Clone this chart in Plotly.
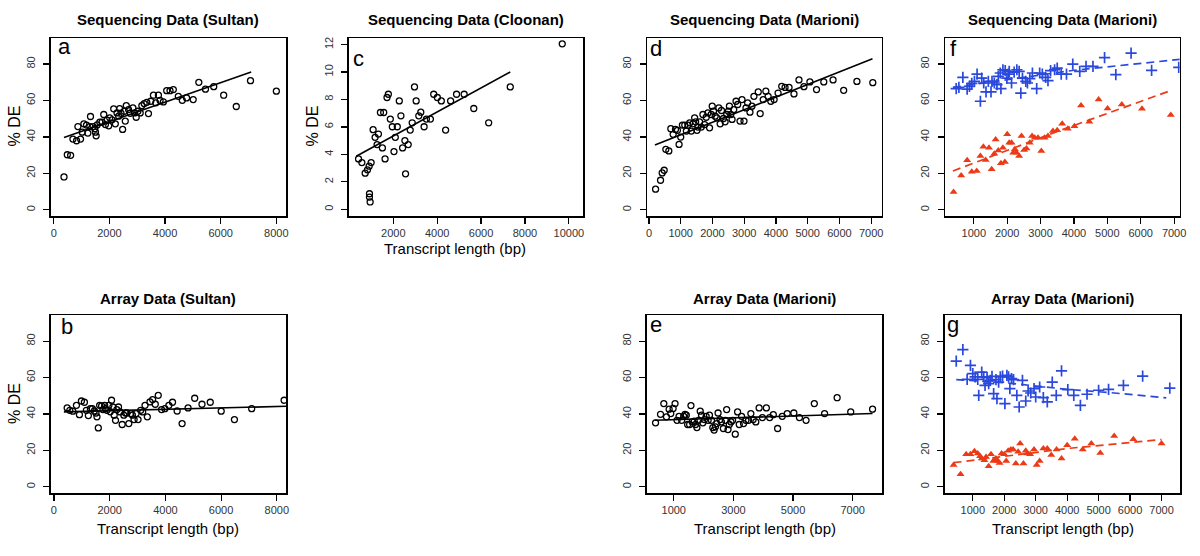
import plotly.graph_objects as go

# ---------------- data ----------------
# Panel a: Sequencing Data (Sultan)
a_x = [369, 488, 607, 690, 821, 869, 964, 1024, 1083, 1179,
       1226, 1321, 1298, 1417, 1476, 1500, 1524, 1560, 1655, 1738,
       1798, 1857, 1917, 1976, 2012, 2095, 2155, 2214, 2274, 2333,
       2369, 2417, 2476, 2536, 2571, 2607, 2690, 2750, 2845, 2905,
       2964, 3024, 3107, 3167, 3250, 3345, 3405, 3488, 3583, 3667,
       3762, 3821, 3940, 4060, 4179, 4298, 4476, 4619, 4774, 5012,
       5214, 5452, 5750, 6107, 6560, 7071, 8000]
a_y = [18.0, 30.2, 29.9, 38.8, 37.9, 45.7, 38.8, 42.6, 47.2, 46.5,
       42.1, 51.2, 45.7, 45.7, 44.5, 42.6, 40.6, 46.6, 48.1, 48.1,
       52.3, 46.8, 49.2, 46.1, 50.5, 49.4, 55.4, 47.2, 53.2, 51.4,
       55.5, 53.0, 44.1, 54.1, 48.7, 57.2, 55.0, 53.0, 55.9, 53.2,
       50.8, 54.1, 53.2, 57.2, 58.3, 59.0, 52.8, 59.6, 62.9, 58.7,
       62.9, 60.0, 59.2, 65.4, 65.4, 66.0, 62.3, 60.1, 61.4, 60.5,
       70.0, 66.2, 67.6, 62.9, 56.7, 70.9, 65.1]
a_fit_x = [369, 7095]
a_fit_y = [39.7, 75.6]

# Panel c: Sequencing Data (Cloonan)
c_x = [415, 566, 717, 823, 898, 989, 913, 913, 943, 1079,
       1170, 1261, 1321, 1412, 1562, 1502, 1623, 1713, 1774, 1864,
       1955, 2030, 2091, 2181, 2272, 2347, 2423, 2528, 2558, 2679,
       2770, 2860, 2966, 3041, 3162, 3252, 3403, 3509, 3690, 3841,
       4007, 4188, 4384, 4611, 4882, 5229, 5667, 6346, 7330, 9700]
c_y = [3.67, 3.40, 2.63, 2.87, 3.14, 3.40, 1.13, 0.89, 0.53, 5.8,
       5.24, 4.71, 5.48, 7.05, 7.05, 4.47, 3.67, 8.14, 8.38, 6.57,
       6.01, 4.20, 5.24, 6.01, 7.89, 6.81, 4.47, 5.00, 2.58, 4.71,
       5.77, 6.30, 8.91, 7.89, 6.81, 7.07, 6.01, 6.57, 6.57, 8.38,
       8.14, 7.89, 5.77, 7.89, 8.38, 8.38, 7.34, 6.30, 8.91, 12.05]
c_fit_x = [310, 7330]
c_fit_y = [3.86, 10.0]

# Panel d: Sequencing Data (Marioni)
d_x = [209, 365, 417, 480, 532, 626, 689, 762, 835, 897,
       949, 1001, 1054, 1127, 1179, 1231, 1283, 1335, 1387, 1439,
       1471, 1513, 1544, 1596, 1648, 1700, 1753, 1805, 1857, 1909,
       1961, 1993, 2034, 2086, 2139, 2201, 2243, 2284, 2347, 2399,
       2451, 2503, 2535, 2577, 2618, 2671, 2744, 2796, 2869, 2931,
       2994, 3057, 3109, 3182, 3244, 3307, 3443, 3505, 3599, 3682,
       3755, 3839, 3943, 4068, 4183, 4287, 4413, 4569, 4726, 4882,
       5070, 5279, 5508, 5800, 6134, 6551, 7052]
d_y = [11.3, 16.2, 20.2, 21.7, 33.2, 32.3, 44.5, 41.4, 44.1, 43.6,
       35.9, 39.9, 46.5, 46.5, 43.2, 46.5, 47.7, 43.2, 47.2, 50.5,
       48.3, 43.6, 45.4, 48.3, 45.4, 52.3, 46.8, 50.8, 53.2, 45.0,
       52.3, 56.9, 54.1, 51.4, 50.5, 55.9, 47.2, 54.5, 50.1, 48.3,
       52.3, 54.1, 56.9, 52.3, 49.6, 55.0, 59.6, 57.8, 48.7, 60.5,
       48.7, 55.9, 58.7, 53.6, 56.9, 62.3, 64.7, 52.8, 60.5, 65.1,
       62.3, 59.6, 60.5, 64.1, 67.8, 67.2, 67.2, 63.6, 71.3, 67.6,
       70.2, 66.0, 70.2, 71.3, 65.6, 70.5, 69.8]
d_fit_x = [188, 7042]
d_fit_y = [35.5, 82.9]

# Panel f: Sequencing Data (Marioni), two groups
f_blue_x = [474, 554, 673, 802, 871, 940, 1020, 1099, 1198, 1238,
            1298, 1367, 1436, 1516, 1546, 1615, 1694, 1734, 1793, 1813,
            1873, 1942, 1992, 2032, 2062, 2131, 2210, 2290, 2359, 2409,
            2458, 2558, 2607, 2677, 2756, 2884, 2974, 3053, 3152, 3222,
            3301, 3420, 3499, 3618, 3777, 3965, 4174, 4362, 4570, 4917,
            5254, 5711, 6326, 7139]
f_blue_y = [66.5, 67.2, 72.7, 66.3, 67.8, 69.4, 70.5, 74.5, 59.6, 72.3,
            69.6, 64.7, 70.5, 64.7, 70.5, 69.6, 68.7, 73.3, 75.1, 66.5,
            76.9, 76.4, 72.3, 74.5, 76.0, 69.6, 75.6, 76.9, 76.0, 64.1,
            72.3, 70.5, 69.6, 72.0, 75.1, 66.5, 75.1, 74.5, 72.7, 70.9,
            76.4, 76.9, 77.8, 74.5, 74.5, 80.0, 76.0, 78.7, 78.7, 83.6,
            74.2, 86.0, 76.5, 78.2]
f_red_x = [395, 623, 802, 940, 1089, 1198, 1288, 1357, 1456, 1536,
           1615, 1655, 1734, 1813, 1873, 1932, 2002, 2062, 2131, 2181,
           2230, 2280, 2359, 2429, 2508, 2578, 2677, 2746, 2825, 2924,
           3023, 3122, 3222, 3370, 3499, 3648, 3816, 4014, 4213, 4461,
           4739, 5007, 5433, 6038, 6901]
f_red_y = [9.8, 18.8, 27.2, 20.8, 21.3, 29.5, 34.6, 27.3, 34.1, 22.2,
           30.8, 38.6, 32.6, 25.5, 34.1, 26.2, 41.4, 36.8, 36.8, 31.3,
           33.2, 31.3, 29.5, 40.5, 32.8, 33.7, 36.8, 40.5, 39.5, 39.5,
           32.3, 39.5, 40.5, 43.2, 43.6, 47.2, 44.5, 45.9, 57.2, 48.3,
           60.5, 55.6, 57.8, 55.4, 52.1]
f_blue_fit_x = [375, 2000, 4000, 7170]
f_blue_fit_y = [67.2, 71.6, 76.6, 82.6]
f_red_fit_x = [375, 3500, 6891]
f_red_fit_y = [21.3, 43.0, 65.4]

# Panel b: Array Data (Sultan)
b_x = [475, 571, 678, 808, 915, 987, 1094, 1165, 1236, 1308,
       1379, 1450, 1510, 1545, 1593, 1640, 1712, 1759, 1819, 1854,
       1902, 1973, 2021, 2068, 2116, 2163, 2211, 2258, 2318, 2377,
       2449, 2508, 2568, 2615, 2687, 2758, 2817, 2877, 2948, 3019,
       3114, 3186, 3269, 3352, 3447, 3542, 3637, 3744, 3863, 3982,
       4125, 4256, 4422, 4600, 4814, 5052, 5314, 5611, 6003, 6478,
       7097, 8262]
b_y = [43.3, 42.0, 41.5, 44.7, 39.6, 47.1, 46.4, 42.0, 39.1, 42.9,
       42.9, 41.6, 40.5, 38.4, 32.3, 44.7, 44.4, 42.4, 44.7, 42.9,
       42.0, 44.7, 41.2, 47.5, 43.8, 39.3, 36.5, 42.4, 43.8, 41.1,
       34.2, 39.3, 40.5, 40.5, 34.7, 40.2, 39.3, 36.9, 40.2, 36.9,
       42.0, 41.1, 44.7, 38.4, 46.6, 47.9, 45.3, 50.2, 42.4, 42.9,
       44.7, 46.4, 41.6, 34.7, 43.3, 48.6, 45.3, 46.4, 41.5, 36.9,
       42.9, 47.5]
b_fit_x = [357, 8330]
b_fit_y = [41.1, 44.2]

# Panel e: Array Data (Marioni)
e_x = [390, 556, 667, 756, 845, 900, 978, 1044, 1111, 1177,
       1266, 1333, 1377, 1421, 1466, 1532, 1577, 1621, 1688, 1732,
       1776, 1832, 1888, 1932, 1976, 2031, 2087, 2153, 2198, 2264,
       2309, 2353, 2397, 2442, 2486, 2553, 2597, 2664, 2730, 2774,
       2819, 2863, 2919, 2974, 3063, 3140, 3196, 3274, 3340, 3418,
       3507, 3585, 3662, 3751, 3862, 3972, 4105, 4216, 4338, 4482,
       4638, 4804, 5026, 5214, 5436, 5713, 6057, 6478, 6933, 7665]
e_y = [35.1, 39.8, 45.7, 38.4, 42.6, 40.2, 43.0, 45.7, 36.5, 38.7,
       36.5, 38.7, 39.8, 39.3, 34.2, 34.2, 44.6, 35.6, 36.0, 34.2,
       32.5, 36.5, 41.5, 39.3, 35.1, 36.9, 38.7, 36.5, 39.3, 36.5,
       32.5, 31.1, 32.9, 34.7, 40.5, 36.9, 35.6, 32.0, 36.5, 42.4,
       31.4, 34.2, 35.6, 36.5, 28.9, 41.1, 34.2, 38.7, 34.7, 36.5,
       36.5, 40.2, 36.9, 35.6, 43.3, 38.0, 43.3, 38.0, 39.6, 32.0,
       38.7, 40.2, 40.5, 38.0, 36.5, 45.7, 40.2, 48.9, 41.1, 42.6]
e_fit_x = [368, 7665]
e_fit_y = [36.5, 40.2]

# Panel g: Array Data (Marioni), two groups
g_blue_x = [474, 684, 821, 926, 1000, 1074, 1158, 1189, 1284, 1347,
            1389, 1453, 1505, 1558, 1611, 1663, 1737, 1768, 1821, 1874,
            1947, 2021, 2084, 2137, 2179, 2232, 2295, 2400, 2474, 2579,
            2684, 2758, 2842, 2947, 3000, 3126, 3242, 3368, 3526, 3653,
            3821, 4021, 4211, 4421, 4632, 5000, 5316, 5789, 6400, 7263]
g_blue_y = [69.0, 75.3, 59.0, 66.7, 62.1, 60.3, 59.0, 50.2, 63.0, 60.3,
            55.7, 59.9, 56.6, 58.4, 60.6, 51.1, 58.8, 48.4, 57.5, 60.3,
            60.8, 45.7, 61.2, 60.3, 53.9, 59.4, 58.8, 50.2, 43.8, 58.4,
            47.1, 52.6, 51.5, 53.9, 49.3, 54.8, 49.0, 46.6, 57.5, 50.2,
            63.6, 53.3, 50.2, 44.7, 50.8, 53.0, 53.5, 55.7, 60.8, 54.2]
g_red_x = [389, 611, 789, 926, 1053, 1158, 1232, 1284, 1368, 1421,
           1505, 1579, 1653, 1705, 1737, 1789, 1853, 1916, 2000, 2063,
           2126, 2211, 2284, 2368, 2442, 2505, 2611, 2684, 2737, 2821,
           2947, 3032, 3126, 3242, 3368, 3495, 3663, 3821, 4000, 4242,
           4495, 4768, 5053, 5495, 6105, 7000]
g_red_y = [11.9, 6.9, 17.9, 17.9, 19.5, 18.3, 16.8, 15.5, 14.6, 16.4,
           11.3, 17.9, 14.2, 14.6, 15.5, 14.2, 13.1, 18.3, 17.9, 14.2,
           19.7, 20.5, 20.5, 12.8, 19.2, 23.7, 12.8, 19.7, 18.3, 17.9,
           20.5, 11.9, 14.2, 21.0, 21.0, 17.4, 20.5, 15.5, 22.8, 26.3,
           20.5, 23.7, 18.6, 27.9, 26.1, 23.7]
g_blue_fit_x = [474, 2000, 4000, 5500, 7150]
g_blue_fit_y = [58.8, 57.2, 53.5, 51.5, 48.8]
g_red_fit_x = [389, 2000, 4000, 7000]
g_red_fit_y = [13.2, 16.6, 21.0, 25.9]

# tick labels
pct_ticks = [0, 20, 40, 60, 80]
cloonan_y_ticks = [0, 2, 4, 6, 8, 10, 12]
x_ticks_8000 = [0, 2000, 4000, 6000, 8000]
x_ticks_10000 = [2000, 4000, 6000, 8000, 10000]
x_ticks_7000 = [0, 1000, 2000, 3000, 4000, 5000, 6000, 7000]
x_ticks_1000_7000 = [1000, 2000, 3000, 4000, 5000, 6000, 7000]
x_ticks_odd = [1000, 3000, 5000, 7000]

titles = ["Sequencing Data (Sultan)", "Sequencing Data (Cloonan)",
          "Sequencing Data (Marioni)", "Sequencing Data (Marioni)",
          "Array Data (Sultan)", "Array Data (Marioni)", "Array Data (Marioni)"]
letters = ["a", "c", "d", "f", "b", "e", "g"]
y_label = "% DE"
x_label = "Transcript length (bp)"

# ---------------- layout helpers ----------------
W, H = 1200, 556
FONT = "Liberation Sans, Arial, Helvetica, sans-serif"
BLUE = "#2a48dc"
RED = "#ec3a16"


def px(x):
    return x / W


def py(y):
    return 1 - y / H


TOP = (37.3, 215.5)
BOT = (315.0, 493.0)
panels = [
    dict(bx=(50, 287), by=TOP, xr=(-110, 8350), yr=(-3.5, 94.2), xt=x_ticks_8000, yt=pct_ticks),
    dict(bx=(350, 586), by=TOP, xr=(-35, 10650), yr=(-0.5, 12.46), xt=x_ticks_10000, yt=cloonan_y_ticks),
    dict(bx=(650.7, 886.7), by=TOP, xr=(-50, 7335), yr=(-3.5, 94.2), xt=x_ticks_7000, yt=pct_ticks),
    dict(bx=(950.7, 1186.7), by=TOP, xr=(149, 7170), yr=(-3.5, 94.2), xt=x_ticks_1000_7000, yt=pct_ticks),
    dict(bx=(50, 287), by=BOT, xr=(-117, 8332), yr=(-3.5, 94.1), xt=x_ticks_8000, yt=pct_ticks),
    dict(bx=(650, 887), by=BOT, xr=(92, 7985), yr=(-3.5, 94.1), xt=x_ticks_odd, yt=pct_ticks),
    dict(bx=(950, 1187), by=BOT, xr=(106, 7590), yr=(-3.5, 94.1), xt=x_ticks_1000_7000, yt=pct_ticks),
]

fig = go.Figure()

circle = dict(symbol="circle-open", size=6, color="black", line=dict(width=1.3, color="black"))
cross = dict(symbol="cross-thin-open", size=8, color=BLUE, line=dict(width=1.7, color=BLUE))
tri = dict(symbol="triangle-up", size=7, color=RED, line=dict(width=0))
solid = dict(color="black", width=1.6)
dash_b = dict(color=BLUE, width=1.7, dash="8px,5px")
dash_r = dict(color=RED, width=1.7, dash="8px,5px")


def add(i, x, y, mode, marker=None, line=None):
    ax = "" if i == 1 else str(i)
    kw = dict(x=x, y=y, mode=mode, xaxis="x" + ax, yaxis="y" + ax, showlegend=False, hoverinfo="skip")
    if marker is not None:
        kw["marker"] = marker
    if line is not None:
        kw["line"] = line
    fig.add_trace(go.Scatter(**kw))


add(1, a_x, a_y, "markers", marker=circle)
add(1, a_fit_x, a_fit_y, "lines", line=solid)
add(2, c_x, c_y, "markers", marker=circle)
add(2, c_fit_x, c_fit_y, "lines", line=solid)
add(3, d_x, d_y, "markers", marker=circle)
add(3, d_fit_x, d_fit_y, "lines", line=solid)
add(4, f_blue_x, f_blue_y, "markers", marker=cross)
add(4, f_red_x, f_red_y, "markers", marker=tri)
add(4, f_blue_fit_x, f_blue_fit_y, "lines", line=dash_b)
add(4, f_red_fit_x, f_red_fit_y, "lines", line=dash_r)
add(5, b_x, b_y, "markers", marker=circle)
add(5, b_fit_x, b_fit_y, "lines", line=solid)
add(6, e_x, e_y, "markers", marker=circle)
add(6, e_fit_x, e_fit_y, "lines", line=solid)
add(7, g_blue_x, g_blue_y, "markers", marker=cross)
add(7, g_red_x, g_red_y, "markers", marker=tri)
add(7, g_blue_fit_x, g_blue_fit_y, "lines", line=dash_b)
add(7, g_red_fit_x, g_red_fit_y, "lines", line=dash_r)

layout = dict(
    width=W, height=H,
    margin=dict(l=0, r=0, t=0, b=0),
    paper_bgcolor="white", plot_bgcolor="white",
    font=dict(family=FONT, color="black"),
    showlegend=False,
    hovermode=False,
)

tick_font = dict(family=FONT, size=11, color="#333333")
for i, p in enumerate(panels, start=1):
    ax = "" if i == 1 else str(i)
    common = dict(showgrid=False, zeroline=False, showline=True, mirror=True,
                  linecolor="black", linewidth=1.5, ticks="outside", ticklen=6,
                  tickwidth=1.2, tickcolor="black", tickfont=tick_font, fixedrange=True)
    layout["xaxis" + ax] = dict(
        common, domain=[px(p["bx"][0]), px(p["bx"][1])], range=list(p["xr"]),
        tickvals=p["xt"], ticktext=[str(v) for v in p["xt"]],
        anchor="y" + ax,
    )
    layout["yaxis" + ax] = dict(
        common, domain=[py(p["by"][1]), py(p["by"][0])], range=list(p["yr"]),
        tickvals=p["yt"], ticktext=[str(v) for v in p["yt"]],
        tickangle=-90, ticklabelstandoff=4,
        anchor="x" + ax,
    )

fig.update_layout(**layout)

annotations = []
# titles
title_pos = [(168.5, 18.3), (468.3, 18.3), (768.7, 18.3), (1068.8, 18.3),
             (168.3, 298.3), (768.3, 298.3), (1068.3, 298.3)]
for t, (x, y) in zip(titles, title_pos):
    annotations.append(dict(text="<b>" + t + "</b>", x=px(x), y=py(y), xref="paper", yref="paper",
                            xanchor="center", yanchor="middle", showarrow=False,
                            font=dict(family=FONT, size=15, color="black")))
# panel letters
letter_pos = [(55, 45.6), (352, 57.3), (651, 47.6), (953, 47.6),
              (58.5, 325.6), (651, 324), (950, 324)]
for t, (x, y) in zip(letters, letter_pos):
    annotations.append(dict(text=t, x=px(x), y=py(y), xref="paper", yref="paper",
                            xanchor="left", yanchor="middle", showarrow=False,
                            font=dict(family=FONT, size=22, color="black")))
# y labels
for (x, y) in [(13.8, 125), (313.8, 125), (13.8, 403)]:
    annotations.append(dict(text=y_label, x=px(x), y=py(y), xref="paper", yref="paper",
                            xanchor="center", yanchor="middle", textangle=-90, showarrow=False,
                            font=dict(family=FONT, size=16, color="black")))
# x labels
for (x, y) in [(456.7, 248.3), (168.3, 528.3), (768.7, 528.3), (1068.7, 528.3)]:
    annotations.append(dict(text=x_label, x=px(x), y=py(y), xref="paper", yref="paper",
                            xanchor="center", yanchor="middle", showarrow=False,
                            font=dict(family=FONT, size=15, color="black")))

fig.update_layout(annotations=annotations)
# remove the page's default 8px body margin so the figure fills the window
fig.write_html("out.html",
               config={"displayModeBar": False, "staticPlot": True},
               post_script="document.body.style.margin='0';document.body.style.overflow='hidden';")
